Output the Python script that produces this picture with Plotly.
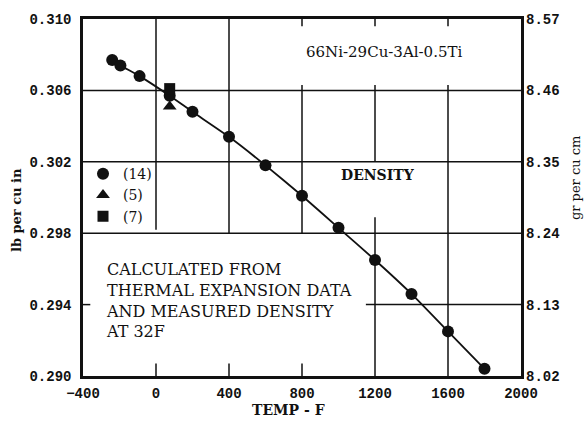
import plotly.graph_objects as go

# ---- data ----
circle_temp = [-240, -195, -90, 75, 200, 400, 600, 800, 1000, 1200, 1400, 1600, 1800]
circle_dens = [0.3077, 0.3074, 0.3068, 0.3057, 0.3048, 0.3034, 0.3018, 0.3001,
               0.2983, 0.2965, 0.2946, 0.2925, 0.2904]
tri_temp = [75]
tri_dens = [0.3051]
sq_temp = [75]
sq_dens = [0.3061]

x_ticks = [-400, 0, 400, 800, 1200, 1600, 2000]
y_ticks = [0.290, 0.294, 0.298, 0.302, 0.306, 0.310]
y_ticktext = ["0.290", "0.294", "0.298", "0.302", "0.306", "0.310"]
y2_ticks = [8.02, 8.13, 8.24, 8.35, 8.46, 8.57]
y2_ticktext = ["8.02", "8.13", "8.24", "8.35", "8.46", "8.57"]

MONO = "Liberation Mono"
SERIF = "DejaVu Serif"
BLACK = "#111111"

fig = go.Figure()

# fitted line through the circle data
fig.add_trace(go.Scatter(x=circle_temp, y=circle_dens, mode="lines",
                         line=dict(color=BLACK, width=1.8, shape="spline", smoothing=0.5),
                         showlegend=False, hoverinfo="skip"))
fig.add_trace(go.Scatter(x=circle_temp, y=circle_dens, mode="markers", name="(14)",
                         marker=dict(symbol="circle", size=12, color=BLACK)))
fig.add_trace(go.Scatter(x=tri_temp, y=tri_dens, mode="markers", name="(5)",
                         marker=dict(symbol="triangle-up", size=12, color=BLACK)))
fig.add_trace(go.Scatter(x=sq_temp, y=sq_dens, mode="markers", name="(7)",
                         marker=dict(symbol="square", size=11, color=BLACK)))
# invisible trace to activate the right axis
fig.add_trace(go.Scatter(x=[None], y=[None], yaxis="y2", showlegend=False, hoverinfo="skip"))

# partial grid lines (gaps where the text boxes sit)
grid_h = [  # (y, x0, x1)
    (0.306, -400, 2000), (0.302, -400, 2000), (0.298, -400, 2000),
    (0.294, 1150, 2000), (0.294, -400, -360),
]
grid_v = [  # (x, y0, y1)
    (0, 0.2982, 0.310), (0, 0.290, 0.2907),
    (400, 0.298, 0.310), (400, 0.290, 0.2907),
    (800, 0.298, 0.3063), (800, 0.3096, 0.310), (800, 0.290, 0.2907),
    (1200, 0.302, 0.3063), (1200, 0.290, 0.2989), (1200, 0.3096, 0.310),
    (1600, 0.290, 0.3063), (1600, 0.3096, 0.310),
]
shapes = []
for y, x0, x1 in grid_h:
    shapes.append(dict(type="line", xref="x", yref="y", x0=x0, x1=x1, y0=y, y1=y,
                       line=dict(color=BLACK, width=1.5), layer="below"))
for x, y0, y1 in grid_v:
    shapes.append(dict(type="line", xref="x", yref="y", x0=x, x1=x, y0=y0, y1=y1,
                       line=dict(color=BLACK, width=1.5), layer="below"))

annotations = [
    dict(text="66Ni-29Cu-3Al-0.5Ti", x=1248, y=0.30814, xref="x", yref="y",
         xanchor="center", yanchor="middle",
         showarrow=False, font=dict(family=SERIF, size=15, color=BLACK)),
    dict(text="<b>DENSITY</b>", x=1215, y=0.30124, xref="x", yref="y",
         xanchor="center", yanchor="middle",
         showarrow=False, font=dict(family=SERIF, size=14, color=BLACK)),
    dict(text="CALCULATED FROM<br>THERMAL EXPANSION DATA<br>AND MEASURED DENSITY<br>AT 32F",
         x=-284, y=0.2966, xref="x", yref="y", xanchor="left", yanchor="top",
         align="left", showarrow=False,
         font=dict(family=SERIF, size=16, color=BLACK)),
    dict(text="<b>lb per cu in</b>", x=-0.152, y=0.466, xref="paper", yref="paper",
         xanchor="center", yanchor="middle",
         textangle=-90, showarrow=False, font=dict(family=SERIF, size=13, color=BLACK)),
    dict(text="gr per cu cm", x=1.123, y=0.554, xref="paper", yref="paper",
         xanchor="center", yanchor="middle",
         textangle=-90, showarrow=False, font=dict(family=SERIF, size=13, color=BLACK)),
    dict(text="<b>TEMP - F</b>", x=0.47, y=-0.094, xref="paper", yref="paper",
         xanchor="center", yanchor="middle",
         showarrow=False, font=dict(family=SERIF, size=14, color=BLACK)),
]

tickfont = dict(family=MONO, size=14, color=BLACK, weight="bold")

fig.update_layout(
    width=587, height=422,
    margin=dict(l=83, r=66, t=13, b=46),
    paper_bgcolor="white", plot_bgcolor="white",
    shapes=shapes, annotations=annotations,
    showlegend=True,
    legend=dict(x=0.0, y=0.61, xanchor="left", yanchor="top",
                bgcolor="rgba(0,0,0,0)", font=dict(family=SERIF, size=14, color=BLACK),
                tracegroupgap=0, itemwidth=30),
    xaxis=dict(range=[-400, 2000], tickvals=x_ticks, showgrid=False, zeroline=False,
               showline=True, linecolor=BLACK, linewidth=2.5, mirror=True,
               ticks="", tickfont=tickfont, ticklabelstandoff=2),
    yaxis=dict(range=[0.290, 0.310], tickvals=y_ticks, ticktext=y_ticktext,
               showgrid=False, zeroline=False, showline=True, linecolor=BLACK,
               linewidth=2.5, mirror=True, ticks="", tickfont=tickfont,
               ticklabelstandoff=6),
    yaxis2=dict(range=[8.02, 8.57], tickvals=y2_ticks, ticktext=y2_ticktext,
                overlaying="y", side="right", showgrid=False, zeroline=False,
                showline=False, ticks="", tickfont=tickfont, ticklabelstandoff=4),
)

fig.write_html("out.html")
